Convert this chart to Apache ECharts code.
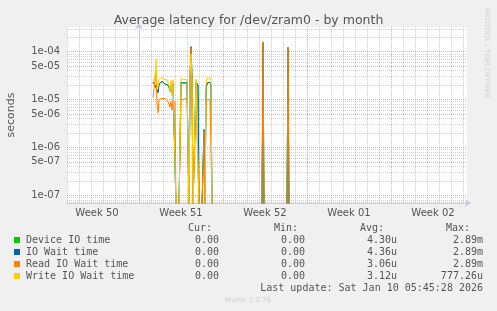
<!DOCTYPE html>
<html><head><meta charset="utf-8">
<script src="https://cdn.jsdelivr.net/npm/echarts@6/dist/echarts.min.js"></script>
<style>html,body{margin:0;padding:0;background:#f0f0f0}#c{width:497px;height:311px}</style>
</head><body><div id="c"></div>
<script>
// hours since Monday of Week 51 (2-hour samples)
const hours = [28,30,32,34,36,38,40,42,44,46,48,50,52,54,56,58,60,62,64,66,68,70,72,74,76,78,80,82,84,86,88,90,92,94,96,98,100,102,104,106,108,110,112,114,116,118,120,122,124,126,128,130,132,134,136,138,140,142,144,146,148,150,246,248,250,296,298,300,652];
const deviceIO = [2.3e-5,2.1e-5,2.0e-5,2.2e-5,1.6e-5,1.4e-5,2.1e-5,2.3e-5,2.2e-5,2.4e-5,2.2e-5,2.3e-5,2.1e-5,2.3e-5,2.2e-5,2.0e-5,1.8e-5,1.5e-5,2.0e-5,1.4e-5,2.2e-5,2.3e-5,2.0e-5,0,0,0,0,0,2.3e-5,2.2e-5,2.3e-5,2.2e-5,2.4e-5,2.2e-5,2.3e-5,2.1e-5,0,2.5e-5,1.28e-4,3.0e-5,0,0,0,2.3e-5,2.2e-5,2.0e-5,0,0,0,0,0,2.4e-6,0,1.5e-5,2.2e-5,2.3e-5,2.2e-5,2.3e-5,2.0e-5,0,0,0,0,1.58e-4,0,0,1.25e-4,0,0];
const ioWait = [2.3e-5,2.1e-5,2.0e-5,2.2e-5,1.6e-5,1.4e-5,2.1e-5,2.3e-5,2.2e-5,2.4e-5,2.2e-5,2.3e-5,2.1e-5,2.3e-5,2.2e-5,2.0e-5,1.8e-5,1.5e-5,2.0e-5,1.4e-5,2.2e-5,2.3e-5,2.0e-5,0,0,0,0,0,2.3e-5,2.2e-5,2.3e-5,2.2e-5,2.4e-5,2.2e-5,2.3e-5,2.1e-5,0,2.5e-5,1.25e-4,3.0e-5,0,0,0,2.3e-5,2.2e-5,2.0e-5,0,0,0,0,0,2.3e-6,0,1.5e-5,2.2e-5,2.3e-5,2.2e-5,2.3e-5,2.0e-5,0,0,0,0,1.55e-4,0,0,1.2e-4,0,0];
const readIOWait = [1.1e-5,1.0e-5,1.2e-5,4.0e-5,8e-6,5.3e-6,1.0e-5,1.05e-5,1.1e-5,1.05e-5,1.0e-5,1.1e-5,1.05e-5,1.0e-5,1.1e-5,9e-6,8e-6,7e-6,9e-6,6e-6,1.0e-5,1.0e-5,9e-6,0,0,0,0,0,1.0e-5,1.1e-5,1.05e-5,1.0e-5,1.1e-5,1.05e-5,1.1e-5,1.0e-5,0,2.0e-5,1.2e-4,2.0e-5,0,0,0,1.0e-5,1.1e-5,1.0e-5,0,0,0,0,0,2.2e-6,0,9e-6,1.0e-5,1.05e-5,1.1e-5,1.0e-5,9.5e-6,0,0,0,0,1.6e-4,0,0,1.25e-4,0,0];
const writeIOWait = [2.4e-5,2.3e-5,3.0e-5,7.0e-5,2.0e-5,1.8e-5,2.6e-5,2.8e-5,2.9e-5,2.7e-5,2.8e-5,2.6e-5,2.7e-5,2.8e-5,2.6e-5,2.4e-5,2.0e-5,1.4e-5,2.5e-5,1.2e-5,2.6e-5,2.7e-5,2.4e-5,0,0,0,0,0,2.8e-5,2.9e-5,2.7e-5,2.6e-5,2.8e-5,2.7e-5,2.6e-5,2.5e-5,0,3.0e-5,9e-5,2.5e-5,0,0,0,2.7e-5,2.8e-5,2.5e-5,0,0,0,0,0,0,0,2.2e-5,2.8e-5,2.8e-5,2.7e-5,2.8e-5,2.5e-5,0,0,0,0,0,0,0,0,0,0];

const seriesNames = ['Device IO time','IO Wait time','Read IO Wait time','Write IO Wait time'];
const seriesValues = [deviceIO, ioWait, readIOWait, writeIOWait];
const curStats = ['0.00','0.00','0.00','0.00'];
const minStats = ['0.00','0.00','0.00','0.00'];
const avgStats = ['4.30u','4.36u','3.06u','3.12u'];
const maxStats = ['2.89m','2.89m','2.89m','777.26u'];

const weekLabels = ['Week 50','Week 51','Week 52','Week 01','Week 02'];
const weekLabelHours = [-84,84,252,420,588];
const dayLineHours = [-144,-120,-96,-72,-48,-24,0,24,48,72,96,120,144,168,192,216,240,264,288,312,336,360,384,408,432,456,480,504,528,552,576,600,624,648];
const yGridValues = [7e-8,8e-8,9e-8,1e-7,2e-7,3e-7,4e-7,5e-7,6e-7,7e-7,8e-7,9e-7,1e-6,2e-6,3e-6,4e-6,5e-6,6e-6,7e-6,8e-6,9e-6,1e-5,2e-5,3e-5,4e-5,5e-5,6e-5,7e-5,8e-5,9e-5,1e-4,2e-4,3e-4];
const yLabelValues = [1e-7,5e-7,1e-6,5e-6,1e-5,5e-5,1e-4];

const yMin = 6.9e-8, yMax = 3.28e-4;
const zeroFloor = yMin * 0.85; // zero has no place on a log scale: drawn just under the plot
const colors = ['#00cc00','#0066b3','#ff8000','#ffcc00'];
const minorC = 'rgba(150,150,150,0.45)', majorC = 'rgba(215,120,120,0.65)';

const chart = echarts.init(document.getElementById('c'), null, {renderer:'canvas'});
const fmtExp = v => { let s = Number(v).toExponential(0); return s.replace(/e([+-])(\d)$/, 'e$10$2'); };

const graphic = [];
const sans = '"DejaVu Sans", sans-serif', mono = '"DejaVu Sans Mono", monospace';
const headRight = [212,298,384,470], valRight = [219,305,397,483];
['Cur:','Min:','Avg:','Max:'].forEach((h,i)=>graphic.push({type:'text',x:headRight[i],y:228,style:{text:h,font:'10px '+mono,fill:'#555',align:'right',verticalAlign:'middle'}}));
seriesNames.forEach((n,i)=>{
  const y = 240 + i*12;
  graphic.push({type:'rect',shape:{x:14,y:y-3,width:6,height:6},style:{fill:colors[i]}});
  graphic.push({type:'text',x:26,y:y,style:{text:n,font:'10px '+mono,fill:'#555',align:'left',verticalAlign:'middle'}});
  [curStats,minStats,avgStats,maxStats].forEach((arr,j)=>graphic.push({type:'text',x:valRight[j],y:y,style:{text:arr[i],font:'10px '+mono,fill:'#555',align:'right',verticalAlign:'middle'}}));
});
graphic.push({type:'text',x:483,y:288,style:{text:'Last update: Sat Jan 10 05:45:28 2026',font:'10px '+mono,fill:'#555',align:'right',verticalAlign:'middle'}});
graphic.push({type:'text',x:248,y:300,style:{text:'Munin 2.0.76',font:'7px '+sans,fill:'#d0d0d0',align:'center',verticalAlign:'middle'}});
graphic.push({type:'text',x:487,y:53,rotation:-Math.PI/2,style:{text:'RRDTOOL / TOBI OETIKER',font:'7px '+sans,fill:'#d0d0d0',align:'center',verticalAlign:'middle'}});

const series = seriesNames.map((n,i)=>({
  name:n, type:'line', showSymbol:false, symbol:'none', animation:false, clip:true,
  lineStyle:{width:1,color:colors[i]}, itemStyle:{color:colors[i]},
  data: hours.map((h,k)=>[h, Math.max(seriesValues[i][k], zeroFloor)])
}));

chart.setOption({
  backgroundColor:'#f0f0f0',
  animation:false,
  title:{text:'Average latency for /dev/zram0 - by month',left:'center',top:9,textStyle:{fontFamily:sans,fontSize:12.5,fontWeight:'normal',color:'#555'}},
  grid:{left:67,top:27,width:400,height:176,backgroundColor:'#fff',show:true,borderWidth:0,containLabel:false,outerBoundsMode:'none'},
  xAxis:{type:'value',min:-144,max:656,
    axisLine:{show:true,lineStyle:{color:'#c8c8e8',width:1},symbol:['none','arrow'],symbolSize:[6,6],symbolOffset:[0,4]},
    axisTick:{show:false,customValues:dayLineHours},
    axisLabel:{customValues:weekLabelHours,margin:5,color:'#555',fontFamily:sans,fontSize:10,
      formatter:v=>{const i=weekLabelHours.indexOf(Math.round(v));return i>=0?weekLabels[i]:'';}},
    splitLine:{show:true,lineStyle:{type:[1,1],width:1,color:[minorC,minorC,minorC,minorC,minorC,minorC,majorC]}}
  },
  yAxis:{type:'log',logBase:10,min:yMin,max:yMax,
    name:'seconds',nameLocation:'middle',nameRotate:90,nameGap:50,nameTextStyle:{color:'#555',fontFamily:sans,fontSize:11},
    axisLine:{show:true,lineStyle:{color:'#c8c8e8',width:1},symbol:['none','arrow'],symbolSize:[6,6],symbolOffset:[0,4]},
    axisTick:{show:false,customValues:yGridValues},
    axisLabel:{customValues:yLabelValues,margin:7,color:'#555',fontFamily:sans,fontSize:10,formatter:v=>fmtExp(v)},
    splitLine:{show:true,lineStyle:{type:[1,1],width:1,color:[minorC,minorC,minorC,majorC,minorC,minorC,minorC,majorC,minorC]}}
  },
  graphic: graphic,
  series: series
});
</script></body></html>
